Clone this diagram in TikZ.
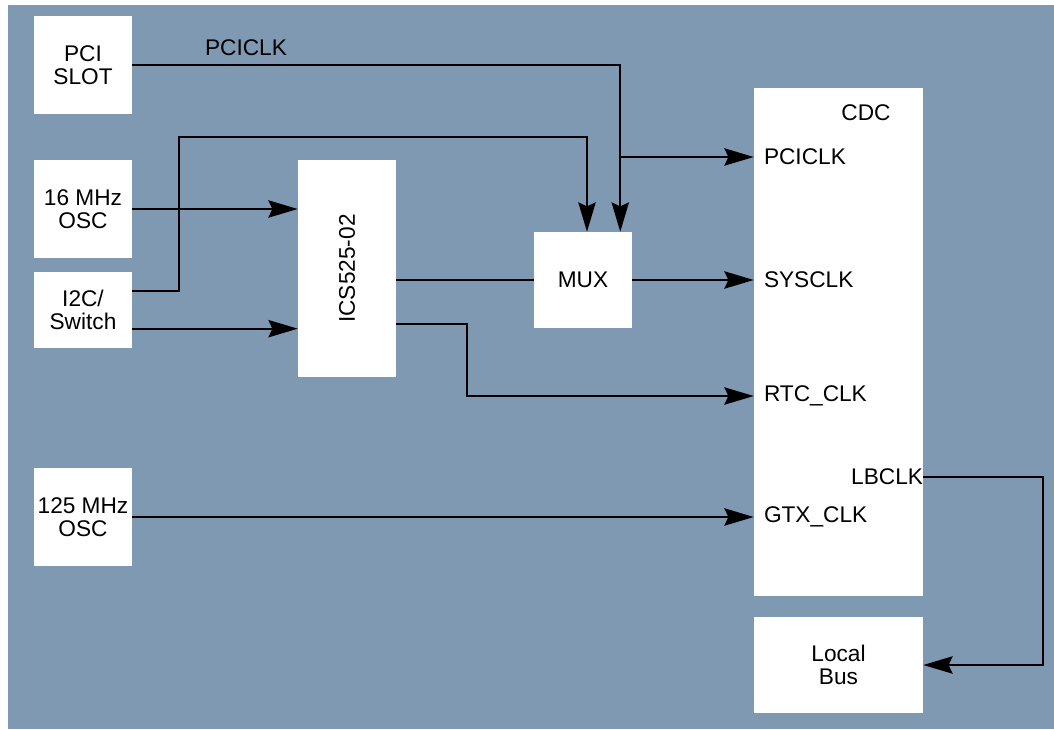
\documentclass[tikz,border=0pt]{standalone}
\usepackage{fontspec}
\setmainfont{Liberation Sans}
\usetikzlibrary{arrows.meta,positioning,calc}
\definecolor{panel}{HTML}{7F99B2}

\begin{document}
\begin{tikzpicture}[
    x=0.75pt,y=-0.75pt,
    font=\fontsize{17pt}{17pt}\selectfont,
    blk/.style={fill=white,inner sep=0pt,minimum width=73.5pt,minimum height=73.5pt,align=center},
    port/.style={inner sep=0pt,anchor=west,xshift=7.5pt},
    wire/.style={line width=1.5pt},
    arr/.style={wire,-{Stealth[length=22pt,width=13pt,inset=3pt]}}
]
    \useasboundingbox (0,0) rectangle (1054,729);
    \fill[panel] (8,5) rectangle (1054,729);

    \node[blk] (pci) at (83,65) {PCI\\SLOT};
    \node[blk] (osc16) at (83,209) {16 MHz\\OSC};
    \node[blk,minimum height=57pt] (i2c) at (83,310) {I2C/\\Switch};
    \node[blk] (osc125) at (83,517) {125 MHz\\OSC};
    \node[blk,minimum height=162.75pt] (ics) at (347,268.5) {};
    \node[rotate=90] (icslabel) at (ics) {ICS525-02};
    \node[blk,minimum height=72pt] (mux) at (583,280) {MUX};
    \node[blk,minimum width=126.75pt,minimum height=381pt] (cdc) at (838.5,342) {};
    \node[blk,minimum width=126.75pt,minimum height=72pt] (bus) at (838.5,665) {Local\\Bus};

    \node (cdctitle) at (866,113) {CDC};
    \node (pcilabel) at (246,48) {PCICLK};

    \coordinate (split) at (620,157);
    \coordinate (jog) at (179,137);
    \coordinate (rtcjog) at (467,396);
    \coordinate (lbrow) at (0,477);

    \node[port] (pciclk) at (cdc.west |- split) {PCICLK};
    \node[port] (sysclk) at (cdc.west |- mux.east) {SYSCLK};
    \node[port] (rtcclk) at (cdc.west |- rtcjog) {RTC\_CLK};
    \node[port] (gtxclk) at (cdc.west |- osc125.east) {GTX\_CLK};
    \node[port,anchor=east,xshift=-7.5pt] (lbclk) at (cdc.east |- lbrow) {LBCLK};

    \draw[arr] (pci.east) -| ([xshift=-9pt]mux.north east);
    \draw[arr] (split) -- (split -| cdc.west);
    \draw[arr] ([yshift=14pt]i2c.east) -| (jog) -| ([xshift=3pt]mux.north);
    \draw[arr] (osc16.east) -- (osc16.east -| ics.west);
    \draw[arr] ([yshift=-14pt]i2c.east) -- ([yshift=-14pt]i2c.east -| ics.west);
    \draw[wire] (mux.west -| ics.east) -- (mux.west);
    \draw[arr] (mux.east) -- (mux.east -| cdc.west);
    \draw[arr] ([yshift=-41.5pt]ics.east) -| (rtcjog) -- (rtcjog -| cdc.west);
    \draw[arr] (osc125.east) -- (osc125.east -| cdc.west);
    \draw[arr] (lbclk.east -| cdc.east) -- ++(90pt,0) |- (bus.east);
\end{tikzpicture}
\end{document}
